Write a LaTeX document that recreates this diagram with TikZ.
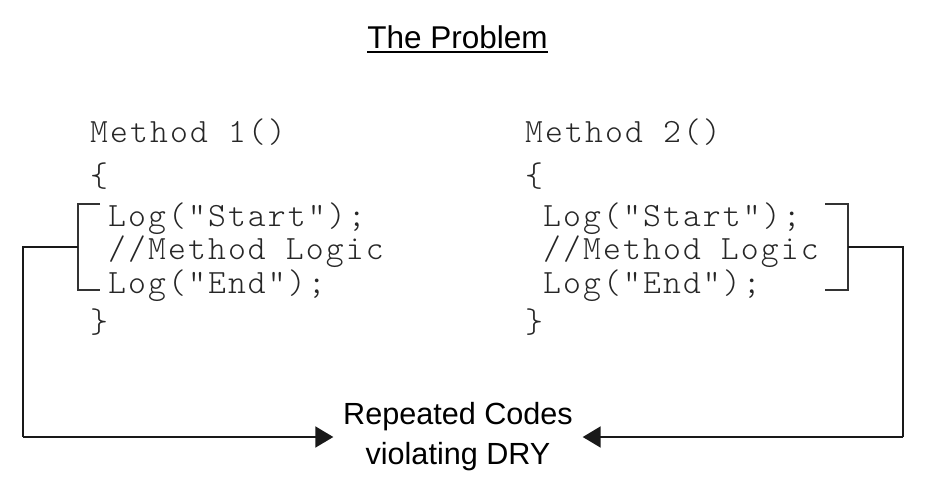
\documentclass[tikz,border=0pt]{standalone}
\usepackage{fontspec}
\setmainfont{Liberation Sans}
\newfontfamily\codefont{lmmonolt10-regular}[Extension=.otf,LetterSpace=6.3]
\usetikzlibrary{arrows.meta}
\newcommand{\ind}{\hphantom{L}}
\begin{document}
\begin{tikzpicture}[x=1pt,y=-1pt,
  codeline/.style={anchor=base west,inner sep=0pt,font=\codefont\fontsize{34}{34}\selectfont,text=black!85},
  brk/.style={line width=1.5pt,draw=black!80},
  conn/.style={line width=2pt,draw=black!90},
  tip/.style={-{Triangle[length=18pt,width=21pt]}}]
\useasboundingbox (0,0) rectangle (926,494);
% title
\node[anchor=base,inner sep=0pt,font=\fontsize{31.5}{31.5}\selectfont] (title) at (457.5,48.5) {The Problem};
\draw[line width=1.3pt] ([yshift=-3.5pt]title.base west) -- ([yshift=-3.5pt]title.base east);
% left method
\node[codeline] (l1) at (90,143) {Method 1()};
\node[codeline] (l2) at (90,187) {\{};
\node[codeline] (l3) at (90,227) {\ind Log("Start");};
\node[codeline] (l4) at (90,260) {\ind //Method Logic};
\node[codeline] (l5) at (90,294) {\ind Log("End");};
\node[codeline] (l6) at (90,332) {\}};
% right method
\node[codeline] (r1) at (525,143) {Method 2()};
\node[codeline] (r2) at (525,187) {\{};
\node[codeline] (r3) at (525,227) {\ind Log("Start");};
\node[codeline] (r4) at (525,260) {\ind //Method Logic};
\node[codeline] (r5) at (525,294) {\ind Log("End");};
\node[codeline] (r6) at (525,332) {\}};
% label
\node[align=center,inner sep=0pt,minimum width=249pt,font=\fontsize{30.6}{40}\selectfont] (lab) at (458,437) {Repeated Codes\\violating DRY};
% brackets
\coordinate (lbt) at (100,204);
\coordinate (lbb) at (100,290);
\coordinate (lbm) at (78,247);
\draw[brk] (lbt) -- (78,204) -- (78,290) -- (lbb);
\coordinate (rbt) at (825,204);
\coordinate (rbb) at (825,290);
\coordinate (rbm) at (848,247);
\draw[brk] (rbt) -- (848,204) -- (848,290) -- (rbb);
% connectors
\coordinate (lc) at (23,437);
\coordinate (rc) at (903,437);
\draw[conn] (lbm) -| (lc);
\draw[conn,tip] (lc) -- (lc -| lab.west);
\draw[conn] (rbm) -| (rc);
\draw[conn,tip] (rc) -- (rc -| lab.east);
\end{tikzpicture}
\end{document}
